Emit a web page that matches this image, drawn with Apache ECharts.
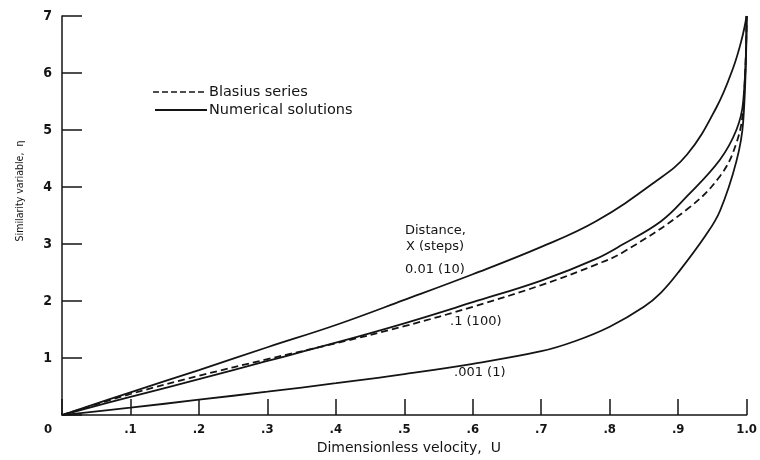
<!DOCTYPE html>
<html>
<head>
<meta charset="utf-8">
<script src="https://cdn.jsdelivr.net/npm/echarts@6/dist/echarts.min.js"></script>
<style>
  html, body { margin: 0; padding: 0; background: #fff; }
  #chart { width: 760px; height: 460px; }
</style>
</head>
<body>
<div id="chart"></div>
<script>
// Velocity profiles: similarity variable eta against dimensionless velocity U
// Each curve is a list of [U, eta] pairs.
const numX001 = [[0,0],[0.1,0.13],[0.2,0.27],[0.3,0.41],[0.4,0.56],[0.5,0.72],[0.6,0.90],[0.7,1.12],[0.75,1.30],[0.8,1.55],[0.85,1.90],[0.875,2.15],[0.9,2.50],[0.94,3.15],[0.961,3.58],[0.985,4.45],[0.995,5.15],[1.0,7.0]];
const numX01  = [[0,0],[0.1,0.40],[0.2,0.79],[0.3,1.19],[0.4,1.58],[0.5,2.02],[0.6,2.47],[0.7,2.95],[0.78,3.40],[0.865,4.08],[0.913,4.57],[0.956,5.40],[0.98,6.08],[0.993,6.6],[1.0,7.0]];
const numX1   = [[0,0],[0.1,0.32],[0.2,0.63],[0.3,0.95],[0.4,1.27],[0.5,1.61],[0.6,1.98],[0.7,2.36],[0.78,2.74],[0.82,3.00],[0.875,3.40],[0.913,3.84],[0.961,4.48],[0.985,5.0],[0.995,5.5],[1.0,7.0]];
const blasius = [[0,0],[0.1,0.37],[0.2,0.69],[0.3,0.98],[0.4,1.26],[0.5,1.56],[0.6,1.90],[0.7,2.28],[0.78,2.64],[0.82,2.86],[0.913,3.61],[0.961,4.19],[0.985,4.77],[0.995,5.4],[1.0,7.0]];

const legendNames = ['Blasius series', 'Numerical solutions'];
const xTitle = 'Dimensionless velocity,  U';
const yTitle = 'Similarity variable,  \u03b7';
const curveLabels = ['Distance,', 'X (steps)', '0.01 (10)', '.1 (100)', '.001 (1)'];

const FONT = '"DejaVu Sans", "Liberation Sans", sans-serif';
const FONT_C = '"DejaVu Sans Condensed", "Liberation Sans Narrow", sans-serif';
const INK = '#141414';

const chart = echarts.init(document.getElementById('chart'), null, { renderer: 'canvas' });

function curve(name, data, dashed) {
  return {
    type: 'line',
    name: name,
    data: data,
    symbol: 'none',
    smooth: 0.4,
    silent: true,
    lineStyle: { color: INK, width: 1.8, type: dashed ? [7, 4] : 'solid' }
  };
}

function label(text, x, y, size) {
  return {
    type: 'text', x: x, y: y,
    style: { text: text, font: (size || 13) + 'px ' + FONT, fill: INK, textVerticalAlign: 'middle' }
  };
}

chart.setOption({
  backgroundColor: '#fff',
  animation: false,
  grid: { left: 62, right: 7, top: 16, bottom: 44 },
  xAxis: {
    type: 'value',
    min: 0, max: 1, interval: 0.1,
    name: xTitle,
    nameLocation: 'middle',
    nameGap: 20,
    nameTextStyle: { fontFamily: FONT, fontSize: 14, color: INK, padding: [0, 0, 0, 9] },
    axisLine: { show: true, lineStyle: { color: INK, width: 1.5 } },
    axisTick: { show: true, inside: true, length: 16, lineStyle: { color: INK, width: 1.5 } },
    splitLine: { show: false },
    axisLabel: {
      margin: 8,
      fontFamily: FONT_C, fontSize: 13, fontWeight: 'bold', color: INK,
      formatter: function (v) {
        const k = Math.round(v * 10);
        if (k === 0) return '{z|0}';
        if (k === 10) return '1.0';
        return '.' + k;
      },
      rich: { z: { fontFamily: FONT_C, fontSize: 13, fontWeight: 'bold', color: INK, padding: [0, 28, 0, 0] } }
    }
  },
  yAxis: {
    type: 'value',
    min: 0, max: 7, interval: 1,
    axisLine: { show: true, lineStyle: { color: INK, width: 1.5 } },
    axisTick: { show: true, inside: true, length: 20, lineStyle: { color: INK, width: 1.5 } },
    splitLine: { show: false },
    axisLabel: {
      margin: 10,
      fontFamily: FONT_C, fontSize: 14, fontWeight: 'bold', color: INK,
      formatter: function (v) { return v === 0 ? '' : String(v); }
    }
  },
  series: [
    curve(legendNames[0], blasius, true),
    curve(legendNames[1], numX01, false),
    curve(legendNames[1], numX1, false),
    curve(legendNames[1], numX001, false)
  ],
  graphic: [
    // y-axis title
    {
      type: 'text', x: 20, y: 191, rotation: Math.PI / 2,
      style: { text: yTitle, font: '10.5px ' + FONT_C, fill: INK, textAlign: 'center', textVerticalAlign: 'middle' }
    },
    // key
    { type: 'line', shape: { x1: 153, y1: 92, x2: 207, y2: 92 }, style: { stroke: INK, lineWidth: 1.3, lineDash: [6, 3] } },
    { type: 'line', shape: { x1: 155, y1: 110, x2: 207, y2: 110 }, style: { stroke: INK, lineWidth: 1.8 } },
    label(legendNames[0], 209, 92, 14.5),
    label(legendNames[1], 209, 110, 14.5),
    // curve annotations
    label(curveLabels[0], 405, 231),
    label(curveLabels[1], 406, 247),
    label(curveLabels[2], 405, 270),
    label(curveLabels[3], 450, 322),
    label(curveLabels[4], 454, 373)
  ]
});
</script>
</body>
</html>
